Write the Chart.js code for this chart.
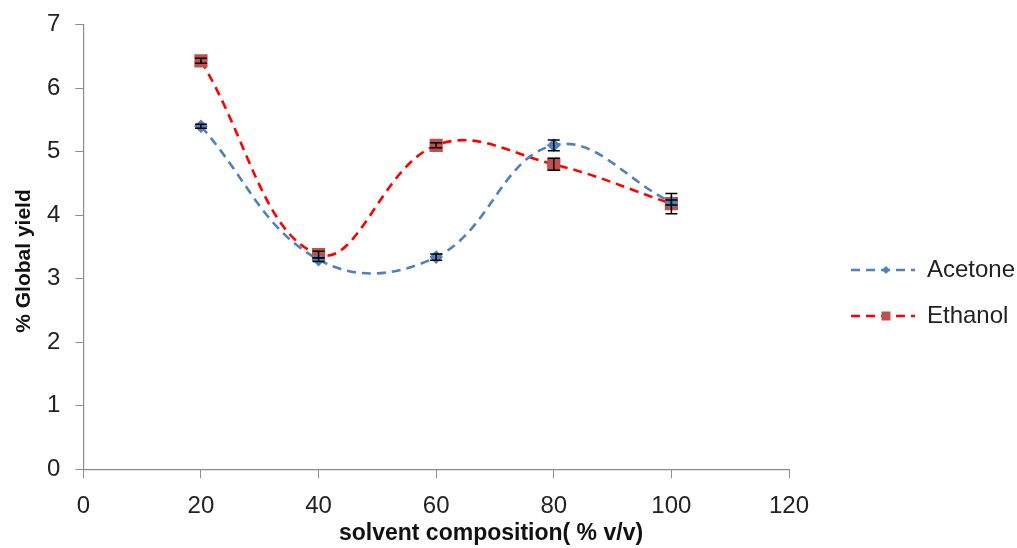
<!DOCTYPE html>
<html lang="en">

<head>
  <meta charset="UTF-8">
  <title>Global yield</title>
  <style>
    body {
      margin: 0;
      background-color: #ffffff;
    }

    #wrap {
      width: 1017px;
      height: 548px;
    }
  </style>
</head>

<body>
  <div id="wrap"><canvas id="myChart" width="1017" height="548"></canvas></div>
  <script src="https://cdn.jsdelivr.net/npm/chart.js@4.4.0/dist/chart.umd.min.js"></script>
  <script>
    // data
    const composition = [20, 40, 60, 80, 100]
    const acetone = [5.4, 3.3, 3.34, 5.1, 4.2]
    const ethanol = [6.43, 3.38, 5.1, 4.8, 4.18]
    const acetoneErr = [0.03, 0.03, 0.05, 0.085, 0.04]
    const ethanolErr = [0.04, 0.05, 0.04, 0.095, 0.16]
    const xTicks = [0, 20, 40, 60, 80, 100, 120]
    const yTicks = [0, 1, 2, 3, 4, 5, 6, 7]
    const xTitle = "solvent composition( % v/v)"
    const yTitle = "% Global yield"

    const font = "'Liberation Sans', Arial, sans-serif"
    const boldFont = "'Liberation Sans Narrow', 'Arial Narrow', sans-serif"
    const axisGray = "#8c8c8c"

    const toPoints = (vals) => composition.map((x, i) => ({ x: x, y: vals[i] }))

    // error bars drawn through the scales
    const errorBars = {
      id: "errorBars",
      afterDatasetsDraw(chart) {
        const ctx = chart.ctx
        const xs = chart.scales.x
        const ys = chart.scales.y
        chart.data.datasets.forEach(ds => {
          ctx.save()
          ctx.strokeStyle = "#000000"
          ctx.lineWidth = 1.5
          ds.data.forEach((p, i) => {
            const e = ds.errors[i]
            const px = xs.getPixelForValue(p.x)
            const top = ys.getPixelForValue(p.y + e)
            const bot = ys.getPixelForValue(p.y - e)
            ctx.beginPath()
            ctx.moveTo(px, top)
            ctx.lineTo(px, bot)
            ctx.moveTo(px - 6, top)
            ctx.lineTo(px + 6, top)
            ctx.moveTo(px - 6, bot)
            ctx.lineTo(px + 6, bot)
            ctx.stroke()
          })
          ctx.restore()
        })
      }
    }

    // axis titles placed like the original, plus the legend on the right
    const extras = {
      id: "extras",
      afterDraw(chart) {
        const ctx = chart.ctx
        ctx.save()
        ctx.fillStyle = "#111111"
        ctx.font = "bold 23px " + boldFont
        ctx.textAlign = "center"
        ctx.textBaseline = "alphabetic"
        ctx.fillText(xTitle, 491, 540)
        ctx.translate(30, 261)
        ctx.rotate(-Math.PI / 2)
        ctx.font = "bold 21px " + boldFont
        ctx.fillText(yTitle, 0, 0)
        ctx.restore()

        const x0 = 851
        const rows = [270, 316]
        chart.data.datasets.forEach((ds, i) => {
          const y = rows[i]
          ctx.save()
          ctx.strokeStyle = ds.borderColor
          ctx.lineWidth = 2.5
          ctx.setLineDash([9, 6])
          ctx.beginPath()
          ctx.moveTo(x0, y)
          ctx.lineTo(x0 + 64, y)
          ctx.stroke()
          ctx.setLineDash([])
          ctx.fillStyle = ds.pointBackgroundColor
          ctx.beginPath()
          if (ds.pointStyle === "rect") {
            ctx.rect(x0 + 30.5, y - 4.5, 9, 9)
          } else {
            ctx.moveTo(x0 + 35, y - 4)
            ctx.lineTo(x0 + 39, y)
            ctx.lineTo(x0 + 35, y + 4)
            ctx.lineTo(x0 + 31, y)
            ctx.closePath()
          }
          ctx.fill()
          ctx.fillStyle = "#222222"
          ctx.font = "24px " + font
          ctx.textBaseline = "middle"
          ctx.fillText(ds.label, x0 + 76, y)
          ctx.restore()
        })
      }
    }

    const ctx = document.getElementById("myChart").getContext("2d")
    const myChart = new Chart(ctx, {
      type: "line",
      data: {
        datasets: [{
          label: "Acetone",
          data: toPoints(acetone),
          errors: acetoneErr,
          borderColor: "#4F81BD",
          borderWidth: 2.6,
          borderDash: [9, 6],
          pointStyle: "rectRot",
          pointRadius: 5,
          pointBackgroundColor: "#4F81BD",
          pointBorderColor: "#4F81BD",
          tension: 0.4,
          fill: false
        },
        {
          label: "Ethanol",
          data: toPoints(ethanol),
          errors: ethanolErr,
          borderColor: "#FF0000",
          borderWidth: 2.6,
          borderDash: [9, 6],
          pointStyle: "rect",
          pointRadius: 7.5,
          pointBackgroundColor: "#C0504D",
          pointBorderColor: "#C0504D",
          tension: 0.4,
          fill: false
        }]
      },
      options: {
        responsive: false,
        devicePixelRatio: 1,
        animation: false,
        layout: {
          padding: { left: 32, right: 228, top: 0, bottom: 13 }
        },
        plugins: {
          legend: { display: false },
          tooltip: { enabled: false }
        },
        scales: {
          x: {
            type: "linear",
            min: 0,
            max: 120,
            afterBuildTicks: (scale) => { scale.ticks = xTicks.map(v => ({ value: v })) },
            grid: { drawOnChartArea: false, color: axisGray, tickLength: 9 },
            border: { color: axisGray, width: 1.2 },
            ticks: { color: "#222222", font: { family: font, size: 24 }, padding: 14 }
          },
          y: {
            min: 0,
            max: 7,
            afterBuildTicks: (scale) => { scale.ticks = yTicks.map(v => ({ value: v })) },
            grid: { drawOnChartArea: false, color: axisGray, tickLength: 8 },
            border: { color: axisGray, width: 1.2 },
            ticks: { color: "#222222", font: { family: font, size: 24, lineHeight: 0.8 }, padding: 15 }
          }
        }
      },
      plugins: [errorBars, extras]
    })
  </script>
</body>

</html>
